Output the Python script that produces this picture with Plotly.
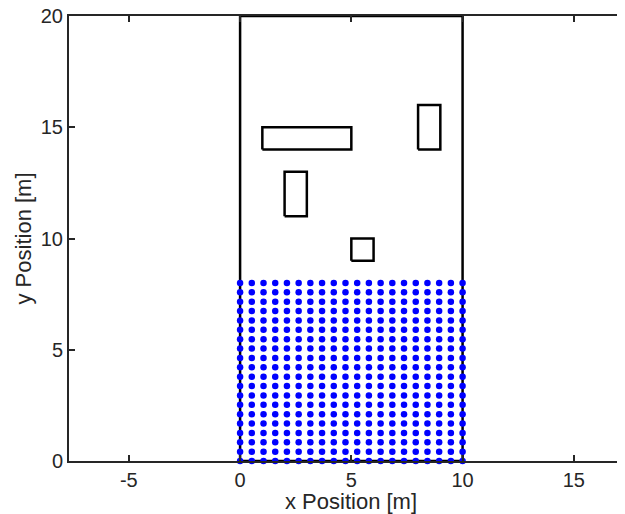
import plotly.graph_objects as go

# Grid of sample points (blue dots)
grid_x = [0.0, 0.526, 1.053, 1.579, 2.105, 2.632, 3.158, 3.684, 4.211, 4.737,
          5.263, 5.789, 6.316, 6.842, 7.368, 7.895, 8.421, 8.947, 9.474, 10.0]
grid_y = [0.0, 0.421, 0.842, 1.263, 1.684, 2.105, 2.526, 2.947, 3.368, 3.789,
          4.211, 4.632, 5.053, 5.474, 5.895, 6.316, 6.737, 7.158, 7.579, 8.0]

# Corridor boundary
boundary_x = [0, 10]
boundary_y = [0, 20]

# Obstacles (x0, x1, y0, y1)
obs_x0 = [1, 2, 5, 8]
obs_x1 = [5, 3, 6, 9]
obs_y0 = [14, 11, 9, 14]
obs_y1 = [15, 13, 10, 16]

x_ticks = [-5, 0, 5, 10, 15]
x_ticklabels = ["-5", "0", "5", "10", "15"]
y_ticks = [0, 5, 10, 15, 20]
y_ticklabels = ["0", "5", "10", "15", "20"]

x_title = "x Position [m]"
y_title = "y Position [m]"

fig = go.Figure()

# boundary rectangle
bx = [boundary_x[0], boundary_x[1], boundary_x[1], boundary_x[0], boundary_x[0]]
by = [boundary_y[0], boundary_y[0], boundary_y[1], boundary_y[1], boundary_y[0]]
fig.add_trace(go.Scatter(x=bx, y=by, mode="lines", line=dict(color="black", width=2.5),
                         showlegend=False, hoverinfo="skip", cliponaxis=False))

# obstacles
ox, oy = [], []
for x0, x1, y0, y1 in zip(obs_x0, obs_x1, obs_y0, obs_y1):
    ox += [x0, x1, x1, x0, x0, None]
    oy += [y0, y0, y1, y1, y0, None]
fig.add_trace(go.Scatter(x=ox, y=oy, mode="lines", line=dict(color="black", width=2.5),
                         showlegend=False, hoverinfo="skip"))

# grid points
px, py = [], []
for yv in grid_y:
    for xv in grid_x:
        px.append(xv)
        py.append(yv)
fig.add_trace(go.Scatter(x=px, y=py, mode="markers",
                         marker=dict(color="#0000FF", size=6.5, line=dict(width=0)),
                         showlegend=False, cliponaxis=False))

font_color = "#262626"
fig.update_layout(
    width=625, height=514,
    margin=dict(l=61, r=0, t=8, b=61, autoexpand=False),
    paper_bgcolor="white", plot_bgcolor="white",
    font=dict(family="Liberation Sans, Arial, sans-serif", color=font_color, size=20),
    xaxis=dict(range=[-7.69, 17.66], tickvals=x_ticks, ticktext=x_ticklabels,
               ticks="inside", ticklen=6, automargin=False, ticklabeloverflow="allow",
               tickwidth=1.5, tickcolor=font_color, showline=True, linecolor=font_color,
               linewidth=2, mirror="ticks", showgrid=False, zeroline=False,
               tickfont=dict(size=20)),
    yaxis=dict(range=[0, 20], tickvals=y_ticks, ticktext=y_ticklabels,
               ticks="inside", ticklen=6, automargin=False, ticklabeloverflow="allow",
               tickwidth=1.5, tickcolor=font_color, showline=True, linecolor=font_color,
               linewidth=2, mirror=False, showgrid=False, zeroline=False,
               tickfont=dict(size=20)),
    annotations=[
        dict(text=x_title, xref="paper", yref="paper", x=0.5, y=0, xanchor="center",
             yanchor="middle", yshift=-40, showarrow=False, font=dict(size=22, color=font_color)),
        dict(text=y_title, xref="paper", yref="paper", x=0, y=0.5, xanchor="center",
             yanchor="middle", xshift=-46, textangle=-90, showarrow=False,
             font=dict(size=22, color=font_color)),
    ],
)

fig.write_html("out.html")
